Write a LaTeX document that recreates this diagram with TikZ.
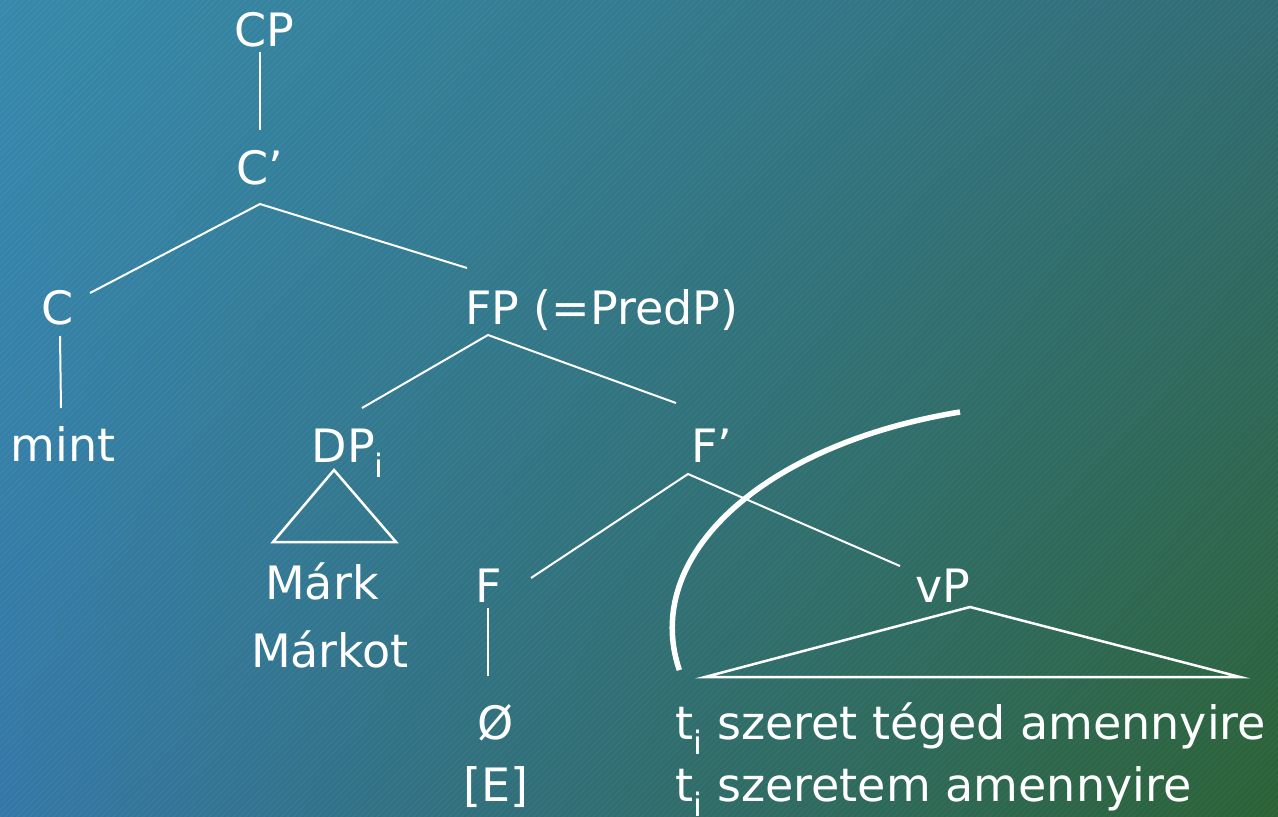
\documentclass[tikz,border=0pt]{standalone}
\usepackage{fontspec}
\setmainfont{DejaVu Sans}
\usetikzlibrary{calc}
\usetikzlibrary{shadings}

\definecolor{bgtl}{RGB}{58,142,176}
\definecolor{bgtr}{RGB}{52,112,120}
\definecolor{bgbl}{RGB}{56,124,172}
\definecolor{bgbr}{RGB}{46,102,56}

\newcommand{\trc}{\textsubscript{i}}

\tikzset{
  cat/.style={text=white, inner sep=0pt, font=\fontsize{46}{50}\selectfont},
  branch/.style={draw=white, line width=2pt},
  roof/.style={draw=white, line width=2.5pt, line join=miter},
  cut/.style={draw=white, line width=5.5pt},
  hatch/.style={draw=black, opacity=0.05, line width=1.5pt}
}

\begin{document}
\begin{tikzpicture}[x=1pt,y=-1pt]
	% background
	\shade[upper left=bgtl, upper right=bgtr, lower left=bgbl, lower right=bgbr] (0,0) rectangle (1278,817);
	\begin{scope}
		\clip (0,0) rectangle (1278,817);
		\foreach \k in {-820,-814,...,1280}
			\draw[hatch] (\k,817) -- ++(817,-817);
	\end{scope}
	\useasboundingbox (0,0) rectangle (1278,817);
	
	% categories
	\node[cat, anchor=base] (CP) at (264,46) {CP};
	\node[cat, anchor=base] (Cbar) at (260,184) {C’};
	\node[cat, anchor=base] (C) at (58,324) {C};
	\node[cat, anchor=base west] (FP) at (465,324) {FP (=PredP)};
	\node[cat, anchor=base] (mint) at (63,461) {mint};
	\node[cat, anchor=base] (DP) at (348,462) {DP\trc};
	\node[cat, anchor=base] (Fbar) at (712,462) {F’};
	\node[cat, anchor=base] (Mark) at (322,599) {Márk};
	\node[cat, anchor=base] (Markot) at (330,667) {Márkot};
	\node[cat, anchor=base] (F) at (489,602) {F};
	\node[cat, anchor=base] (vP) at (943,602) {vP};
	\node[cat, anchor=base] (empty) at (496,739) {Ø};
	\node[cat, anchor=base] (E) at (496,801) {[E]};
	
	% the two clauses under vP
	\node[cat, anchor=base west] (clauseA) at (675,739) {t\trc{} szeret téged amennyire};
	\node[cat, anchor=base west] (clauseB) at (675,801) {t\trc{} szeretem amennyire};
	
	% branches
	\draw[branch] ($(CP.base)+(-4,6)$) -- ($(Cbar.base)+(0,-54)$);
	\draw[branch] ($(C.base)+(32,-31)$) -- ($(Cbar.base)+(0,20)$) -- ($(FP.base west)+(2,-56)$);
	\draw[branch] ($(C.base)+(2,12)$) -- ($(mint.base)+(-2,-53)$);
	\draw[branch] ($(DP.base)+(14,-54)$) -- ($(FP.base west)+(23,11)$) -- ($(Fbar.base)+(-36,-59)$);
	\draw[branch] ($(F.base)+(42,-24)$) -- ($(Fbar.base)+(-24,12)$) -- ($(vP.base)+(-43,-36)$);
	\draw[branch] ($(F.base)+(-1,6)$) -- ($(empty.base)+(-8,-63)$);
	
	% roofs
	\draw[roof] ($(DP.base)+(-14,8)$) -- ($(DP.base)+(48,80)$) -- ($(DP.base)+(-75,80)$) -- cycle;
	\draw[roof] ($(vP.base)+(27,5)$) -- ($(vP.base)+(297,75)$) -- ($(vP.base)+(-238,75)$) -- cycle;
	
	% ellipsis boundary
	\draw[cut] (960,412) arc[start angle=253.7, end angle=169.2, x radius=400, y radius=225];
\end{tikzpicture}
\end{document}
